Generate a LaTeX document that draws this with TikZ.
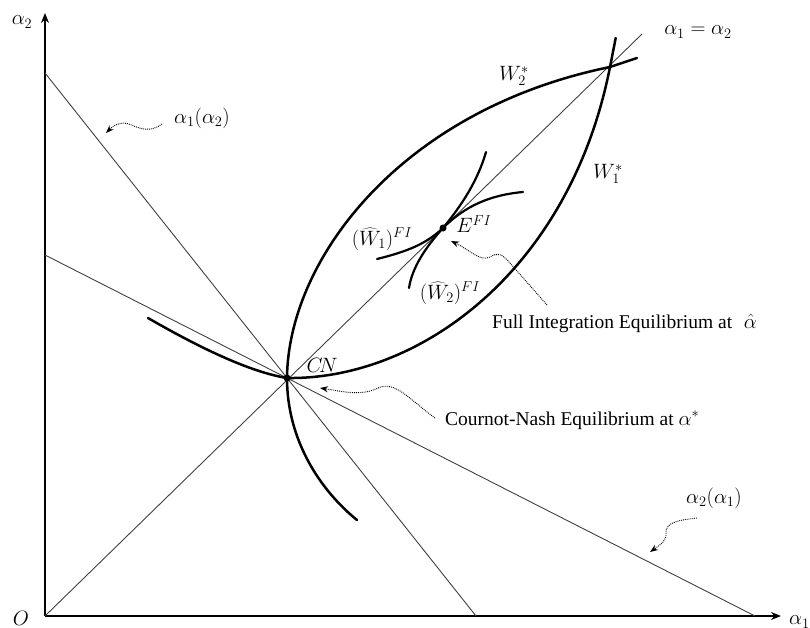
\documentclass[tikz,border=0pt]{standalone}
\usepackage{fontspec}
\setmainfont{Liberation Serif}
\usetikzlibrary{arrows.meta}
\begin{document}
\begin{tikzpicture}[x=1pt,y=-1pt,
  axis/.style={line width=1.5pt,-{Stealth[length=10pt,width=8pt]}},
  guide/.style={line width=0.9pt,black!75},
  curve/.style={line width=2.5pt,line cap=round},
  pointer/.style={densely dotted,line width=0.9pt,-{Stealth[length=8pt,width=6pt]}},
  lab/.style={font=\fontsize{21.5}{24}\selectfont,inner sep=0pt},
  txt/.style={font=\fontsize{19.5}{22}\selectfont,inner sep=0pt,anchor=west},
  dot/.style={circle,fill=black,inner sep=0pt,minimum size=7pt}]
\useasboundingbox (0,0) rectangle (810,628);
% key points
\coordinate (O) at (45,616);
\coordinate (ytop) at (45,13);
\coordinate (xend) at (781,616);
\coordinate (CN) at (287,378);
\coordinate (EFI) at (443,228);
\coordinate (TOP) at (610,67);
\coordinate (A1top) at (45,73);
\coordinate (A1bot) at (476,616);
\coordinate (A2top) at (45,255);
\coordinate (A2bot) at (755,616);
\coordinate (D45) at (642,34);
% axes
\draw[axis] (O) -- (ytop);
\draw[axis] (O) -- (xend);
% straight lines
\draw[guide] (A1top) -- (A1bot);
\draw[guide] (A2top) -- (A2bot);
\draw[guide] (O) -- (D45);
% W1*
\draw[curve] (148,318) .. controls (200,348) and (250,372) .. (CN)
  .. controls (420,380) and (570,270) .. (TOP) -- (615.7,38);
% W2*
\draw[curve] (357,520) .. controls (320,490) and (287,440) .. (CN)
  .. controls (288,260) and (400,110) .. (TOP) -- (637,58);
% small FI curves
\draw[curve,line width=2.2pt] (377,259) .. controls (405,252) and (425,245) .. (EFI)
  .. controls (465,206) and (490,195) .. (523,192);
\draw[curve,line width=2.2pt] (409,288) .. controls (412,268) and (425,248) .. (EFI)
  .. controls (462,205) and (478,180) .. (486,152);
% dots
\node[dot] (cnd) at (CN) {};
\node[dot] (efd) at (EFI) {};
% labels
\node[lab] (la2) at (22,22) {$\alpha_2$};
\node[lab,anchor=west] (la1) at (789,622) {$\alpha_1$};
\node[lab] (lO) at (21,618) {$O$};
\node[lab] (l12) at (202,118) {$\alpha_1(\alpha_2)$};
\node[lab] (l21) at (714,498) {$\alpha_2(\alpha_1)$};
\node[lab] (leq) at (698,32) {$\alpha_1=\alpha_2$};
\node[lab] (lW2) at (514,76) {$W_2^*$};
\node[lab] (lW1) at (608,174) {$W_1^*$};
\node[lab] (lCN) at (322,365) {$C\!N$};
\node[lab] (lW1f) at (382,239) {$(\widehat{W}_1)^{FI}$};
\node[lab] (lE) at (474,224) {$E^{FI}$};
\node[lab] (lW2f) at (450,293) {$(\widehat{W}_2)^{FI}$};
\node[txt] (tFI) at (492,323) {Full Integration Equilibrium at\hspace{0.6em}$\hat{\alpha}$};
\node[txt] (tCN) at (445,420) {Cournot-Nash Equilibrium at $\alpha^*$};
% pointers
\coordinate (p1t) at (162,124);
\coordinate (p1h) at (106,133);
\draw[pointer] (p1t) .. controls (145,136) and (135,124) .. (124,123) .. controls (117,123) and (112,127) .. (p1h);
\coordinate (p2t) at (697,518);
\coordinate (p2h) at (650,552);
\draw[pointer] (p2t) .. controls (680,520) and (665,522) .. (666,533) .. controls (667,541) and (660,545) .. (p2h);
\coordinate (p3t) at (435,418);
\coordinate (p3h) at (320,388);
\draw[pointer] (p3t) .. controls (410,400) and (395,380) .. (378,388) .. controls (362,396) and (345,392) .. (p3h);
\coordinate (p4t) at (547,305);
\coordinate (p4h) at (451,241);
\draw[pointer] (p4t) -- (510,263) .. controls (502,254) and (498,252) .. (490,257) .. controls (480,262) and (470,250) .. (p4h);
\end{tikzpicture}
\end{document}
